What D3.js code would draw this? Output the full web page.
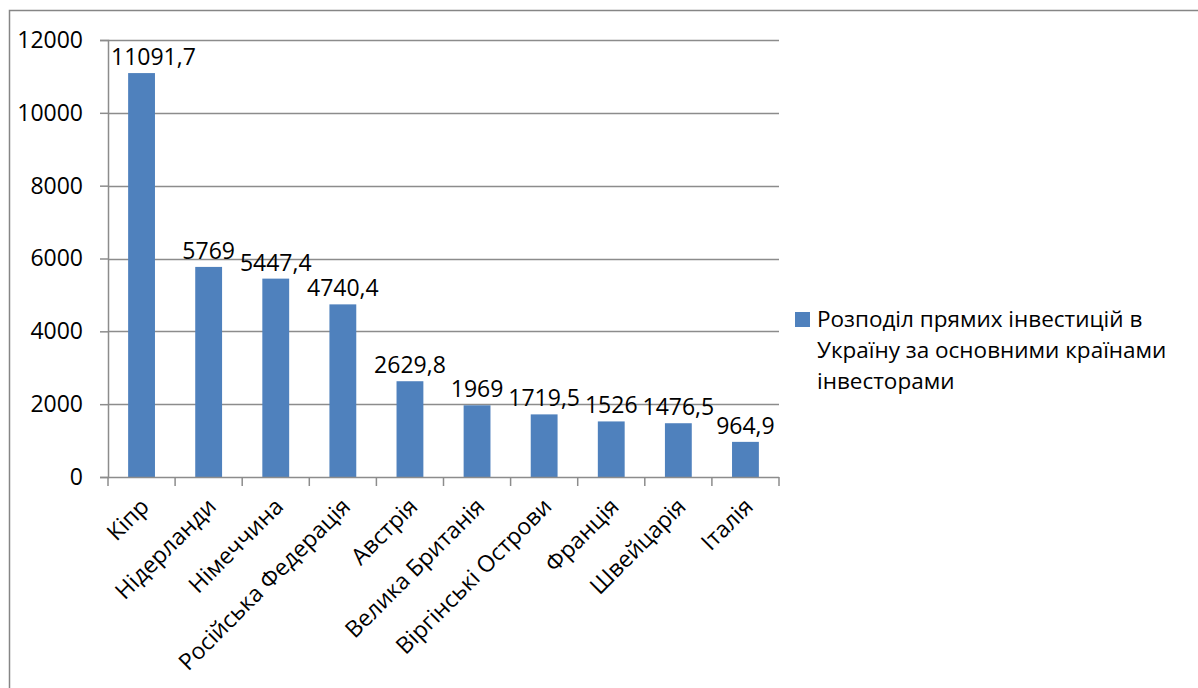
<!DOCTYPE html>
<html>
<head>
<meta charset="utf-8">
<script src="https://cdnjs.cloudflare.com/ajax/libs/d3/7.8.5/d3.min.js"></script>
<style>
  body { margin: 0; background: #fff; }
  svg text { font-family: "Open Sans", sans-serif; fill: #000; }
</style>
</head>
<body>
<div id="graph"></div>
<script>
(function(){
"use strict";

// categories and values (millions USD)
var countries = ["Кіпр", "Нідерланди", "Німеччина", "Російська Федерація", "Австрія",
  "Велика Британія", "Віргінські Острови", "Франція", "Швейцарія", "Італія"];
var values = [11091.7, 5769, 5447.4, 4740.4, 2629.8, 1969, 1719.5, 1526, 1476.5, 964.9];
var valueLabels = ["11091,7", "5769", "5447,4", "4740,4", "2629,8", "1969", "1719,5", "1526", "1476,5", "964,9"];
var yTicks = [0, 2000, 4000, 6000, 8000, 10000, 12000];
var legendLines = ["Розподіл прямих інвестицій в", "Україну за основними країнами", "інвесторами"];

var W = 1198, H = 688;
var left = 108, right = 779, top = 40, bottom = 477;
var barColor = "#4F81BD";
var gridColor = "#8c8c8c";

var svg = d3.select("#graph").append("svg")
  .attr("width", W)
  .attr("height", H);

// chart frame (runs past the window on right and bottom)
svg.append("rect")
  .attr("x", 9.5).attr("y", 10.5)
  .attr("width", W + 20).attr("height", H + 20)
  .attr("fill", "#fff")
  .attr("stroke", "#868686")
  .attr("stroke-width", 1.5);

var x = d3.scaleBand()
  .domain(countries)
  .range([left, right])
  .paddingInner(0.6)
  .paddingOuter(0.3);

var y = d3.scaleLinear()
  .domain([0, 12000])
  .range([bottom, top]);

// gridlines
svg.append("g")
  .selectAll("line")
  .data(yTicks.slice(1))
  .enter()
  .append("line")
    .attr("x1", left).attr("x2", right)
    .attr("y1", function(d){ return Math.round(y(d)) + 0.5; })
    .attr("y2", function(d){ return Math.round(y(d)) + 0.5; })
    .attr("stroke", gridColor)
    .attr("stroke-width", 1.5);

// y axis
var yAxis = d3.axisLeft(y)
  .tickValues(yTicks)
  .tickSize(8)
  .tickPadding(17)
  .tickFormat(d3.format("d"));

var gy = svg.append("g")
  .attr("transform", "translate(" + left + ",0)")
  .call(yAxis);
gy.select(".domain").attr("stroke", gridColor).attr("stroke-width", 1.5);
gy.selectAll(".tick line").attr("stroke", gridColor).attr("stroke-width", 1.5);
gy.selectAll("text")
  .attr("font-size", 23)
  .attr("font-family", "'Open Sans', sans-serif")
  .attr("fill", "#000");

// bars
svg.append("g")
  .selectAll("rect")
  .data(values)
  .enter()
  .append("rect")
    .attr("x", function(d, i){ return x(countries[i]); })
    .attr("width", x.bandwidth())
    .attr("y", function(d){ return y(d); })
    .attr("height", function(d){ return bottom - y(d); })
    .attr("fill", barColor);

// x axis with ticks at category boundaries
var gx = svg.append("g")
  .attr("transform", "translate(0," + bottom + ")");
gx.append("line")
  .attr("x1", left).attr("x2", right)
  .attr("y1", 0.5).attr("y2", 0.5)
  .attr("stroke", gridColor).attr("stroke-width", 1.5);
gx.selectAll("line.tk")
  .data(d3.range(countries.length + 1))
  .enter()
  .append("line")
    .attr("class", "tk")
    .attr("x1", function(i){ return left + i * (right - left) / countries.length; })
    .attr("x2", function(i){ return left + i * (right - left) / countries.length; })
    .attr("y1", 0).attr("y2", 9)
    .attr("stroke", gridColor).attr("stroke-width", 1.5);

gx.selectAll("text")
  .data(countries)
  .enter()
  .append("text")
    .attr("font-size", 23)
    .attr("text-anchor", "end")
    .attr("transform", function(d){
      var cx = x(d) + x.bandwidth() / 2 + 9;
      return "translate(" + cx + ",31) rotate(-45)";
    })
    .text(function(d){ return d; });

// data labels
svg.append("g")
  .selectAll("text")
  .data(values)
  .enter()
  .append("text")
    .attr("font-size", 23)
    .attr("text-anchor", "middle")
    .attr("x", function(d, i){ return x(countries[i]) + x.bandwidth() / 2; })
    .attr("y", function(d){ return y(d) - 8; })
    .text(function(d, i){ return valueLabels[i]; })
    .each(function(){
      // keep labels inside plot area on the left
      var bb = this.getBBox();
      if (bb.x < left + 3) {
        d3.select(this).attr("x", +d3.select(this).attr("x") + (left + 3 - bb.x));
      }
    });

// legend
var legend = svg.append("g").attr("transform", "translate(795,312)");
legend.append("rect")
  .attr("width", 15).attr("height", 15)
  .attr("fill", barColor);
legend.selectAll("text")
  .data(legendLines)
  .enter()
  .append("text")
    .attr("x", 22)
    .attr("y", function(d, i){ return 15 + i * 31; })
    .attr("font-size", 22.5)
    .text(function(d){ return d; });

})();
</script>
</body>
</html>
